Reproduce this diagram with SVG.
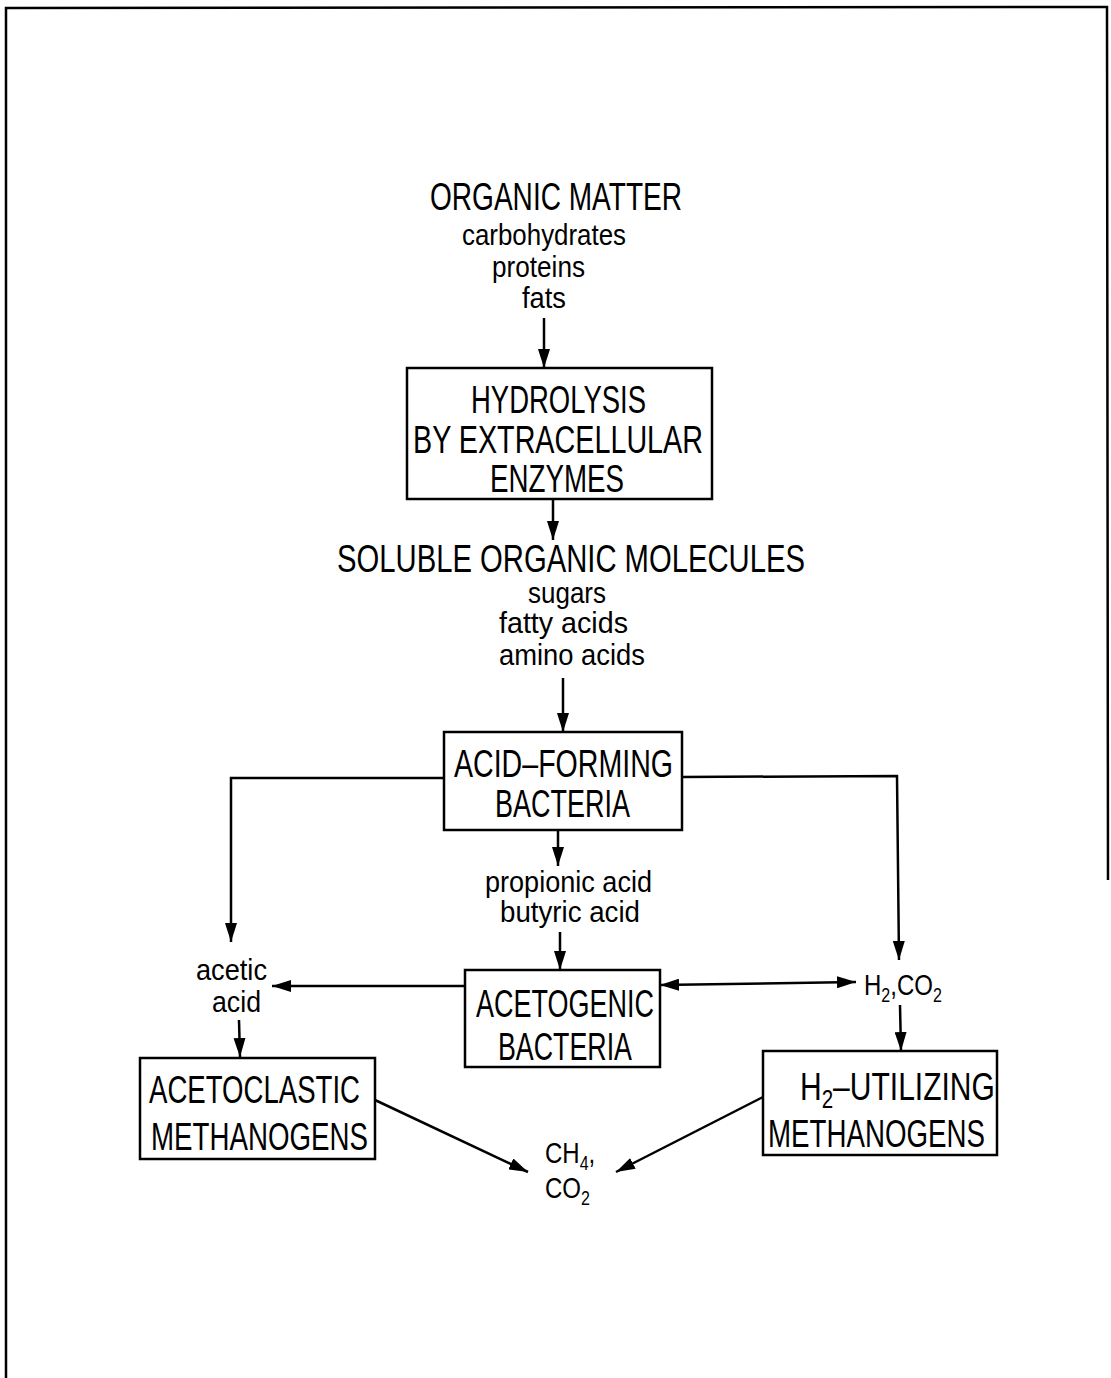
<svg xmlns="http://www.w3.org/2000/svg" width="1111" height="1378" viewBox="0 0 1111 1378">
<defs>
<marker id="ah" markerUnits="userSpaceOnUse" markerWidth="20" markerHeight="12" refX="19" refY="6" orient="auto-start-reverse">
<path d="M0,0 L19,6 L0,12 Z" fill="#000"/>
</marker>
<style>
.ln{stroke:#000;stroke-width:2.5;fill:none}
.bx{stroke:#000;stroke-width:2.5;fill:#fff}
.big{font-family:"Liberation Sans",Arial,sans-serif;font-size:38px;fill:#000}
.sm{font-family:"Liberation Sans",Arial,sans-serif;font-size:29px;fill:#000}
.chem{font-family:"Liberation Sans",Arial,sans-serif;font-size:30px;fill:#000}
</style>
</defs>
<rect width="1111" height="1378" fill="#fff"/>
<g id="frame" class="ln">
<path d="M6,1378 L6,8 L1107,7 L1108,880"/>
</g>
<g id="connectors" class="ln">
<line x1="544" y1="318" x2="544" y2="368" marker-end="url(#ah)"/>
<line x1="553" y1="499" x2="553" y2="540" marker-end="url(#ah)"/>
<line x1="563" y1="678" x2="563" y2="732" marker-end="url(#ah)"/>
<path d="M444,778 L231,778 L231,942" marker-end="url(#ah)"/>
<path d="M682,777 L897,776 L899,960" marker-end="url(#ah)"/>
<line x1="558" y1="830" x2="558" y2="866" marker-end="url(#ah)"/>
<line x1="560" y1="932" x2="560" y2="970" marker-end="url(#ah)"/>
<line x1="465" y1="986" x2="272" y2="986" marker-end="url(#ah)"/>
<line x1="660" y1="985" x2="856" y2="982" marker-start="url(#ah)" marker-end="url(#ah)"/>
<line x1="239" y1="1020" x2="240" y2="1057" marker-end="url(#ah)"/>
<line x1="900" y1="1005" x2="901" y2="1051" marker-end="url(#ah)"/>
<line x1="375" y1="1100" x2="528" y2="1172" marker-end="url(#ah)"/>
<line x1="763" y1="1097" x2="616" y2="1172" marker-end="url(#ah)"/>
</g>
<g id="organic-matter">
<text class="big" x="430" y="210" textLength="252" lengthAdjust="spacingAndGlyphs">ORGANIC  MATTER</text>
<text class="sm" x="462" y="245" textLength="164" lengthAdjust="spacingAndGlyphs">carbohydrates</text>
<text class="sm" x="492" y="277" textLength="93" lengthAdjust="spacingAndGlyphs">proteins</text>
<text class="sm" x="522" y="308" textLength="44" lengthAdjust="spacingAndGlyphs">fats</text>
</g>
<g id="hydrolysis">
<rect class="bx" x="407" y="368" width="305" height="131"/>
<text class="big" x="471" y="413" textLength="175" lengthAdjust="spacingAndGlyphs">HYDROLYSIS</text>
<text class="big" x="413" y="453" textLength="290" lengthAdjust="spacingAndGlyphs">BY  EXTRACELLULAR</text>
<text class="big" x="490" y="492" textLength="134" lengthAdjust="spacingAndGlyphs">ENZYMES</text>
</g>
<g id="soluble-organic-molecules">
<text class="big" x="337" y="572" textLength="468" lengthAdjust="spacingAndGlyphs">SOLUBLE  ORGANIC  MOLECULES</text>
<text class="sm" x="528" y="603" textLength="78" lengthAdjust="spacingAndGlyphs">sugars</text>
<text class="sm" x="499" y="633" textLength="129" lengthAdjust="spacingAndGlyphs">fatty  acids</text>
<text class="sm" x="499" y="665" textLength="146" lengthAdjust="spacingAndGlyphs">amino  acids</text>
</g>
<g id="acid-forming-bacteria">
<rect class="bx" x="444" y="732" width="238" height="98"/>
<text class="big" x="454" y="777" textLength="219" lengthAdjust="spacingAndGlyphs">ACID–FORMING</text>
<text class="big" x="495" y="817" textLength="135" lengthAdjust="spacingAndGlyphs">BACTERIA</text>
</g>
<g id="propionic-butyric">
<text class="sm" x="485" y="892" textLength="167" lengthAdjust="spacingAndGlyphs">propionic  acid</text>
<text class="sm" x="500" y="922" textLength="140" lengthAdjust="spacingAndGlyphs">butyric  acid</text>
</g>
<g id="acetogenic-bacteria">
<rect class="bx" x="465" y="970" width="195" height="97"/>
<text class="big" x="476" y="1017" textLength="178" lengthAdjust="spacingAndGlyphs">ACETOGENIC</text>
<text class="big" x="498" y="1060" textLength="134" lengthAdjust="spacingAndGlyphs">BACTERIA</text>
</g>
<g id="acetic-acid">
<text class="sm" x="196" y="980" textLength="71" lengthAdjust="spacingAndGlyphs">acetic</text>
<text class="sm" x="212" y="1012" textLength="49" lengthAdjust="spacingAndGlyphs">acid</text>
</g>
<g id="h2-co2">
<text class="chem" transform="translate(864,995) scale(0.8,1)" x="0" y="0">H<tspan font-size="20" dy="7">2</tspan><tspan dy="-7">,CO</tspan><tspan font-size="20" dy="7">2</tspan></text>
</g>
<g id="acetoclastic-methanogens">
<rect class="bx" x="140" y="1058" width="235" height="101"/>
<text class="big" x="149" y="1103" textLength="211" lengthAdjust="spacingAndGlyphs">ACETOCLASTIC</text>
<text class="big" x="151" y="1150" textLength="217" lengthAdjust="spacingAndGlyphs">METHANOGENS</text>
</g>
<g id="h2-utilizing-methanogens">
<rect class="bx" x="763" y="1051" width="234" height="104"/>
<text class="big" transform="translate(800,1100) scale(0.79,1)" x="0" y="0">H<tspan font-size="26" dy="8">2</tspan><tspan dy="-8">–UTILIZING</tspan></text>
<text class="big" x="768" y="1147" textLength="217" lengthAdjust="spacingAndGlyphs">METHANOGENS</text>
</g>
<g id="ch4-co2">
<text class="chem" transform="translate(545,1163) scale(0.8,1)" x="0" y="0">CH<tspan font-size="20" dy="7">4</tspan><tspan dy="-7">,</tspan></text>
<text class="chem" transform="translate(545,1198) scale(0.8,1)" x="0" y="0">CO<tspan font-size="20" dy="7">2</tspan></text>
</g>
</svg>
